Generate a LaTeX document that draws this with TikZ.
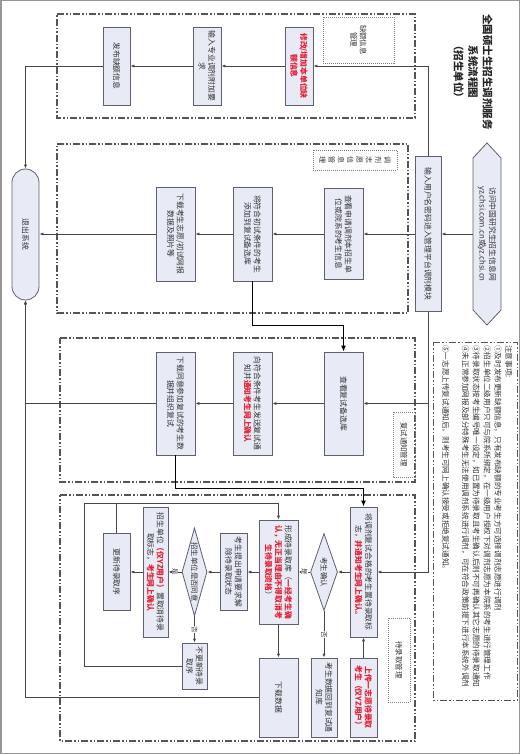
\documentclass[tikz,border=0pt]{standalone}
\usepackage{fontspec}
\usetikzlibrary{arrows.meta,shapes.geometric}
\newfontfamily\cjk{Noto Sans CJK SC}
\definecolor{boxfill}{RGB}{232, 235, 246}
\definecolor{boxline}{RGB}{95, 95, 110}
\definecolor{flowgray}{RGB}{70, 70, 70}
\definecolor{lanegray}{RGB}{85, 85, 85}
\definecolor{alertred}{RGB}{225, 35, 55}
\definecolor{framegray}{RGB}{150, 150, 150}
\newcommand{\redtxt}[1]{\textcolor{alertred}{\bfseries #1}}

\begin{document}
\begin{tikzpicture}[x=1pt, y=1pt,
    box/.style={draw=boxline, fill=boxfill, line width=0.8pt, inner sep=1pt, align=center, text=black!80, font=\cjk\fontsize{7.8}{9.8}\selectfont},
    decide/.style={diamond, draw=boxline, fill=boxfill, line width=0.8pt, inner sep=0pt, text=black!80, font=\cjk\fontsize{7.4}{9}\selectfont},
    lane/.style={draw=lanegray, line width=1.1pt, dash pattern=on 7pt off 2pt on 1.5pt off 2pt on 1.5pt off 2pt},
    tag/.style={draw=black!50, line width=0.6pt, dash pattern=on 1pt off 1pt, align=center, text=black!80, font=\cjk\fontsize{7.4}{9.5}\selectfont},
    flow/.style={draw=flowgray, line width=0.8pt, -{Latex[length=4pt, width=3.2pt]}},
    bigflow/.style={draw=black, line width=1.4pt, -{Latex[length=6pt, width=5pt]}},
    yesno/.style={fill=white, inner sep=0.5pt, text=black!80, font=\cjk\fontsize{6.5}{7}\selectfont}]
    % Moldura da página
    \useasboundingbox (0,-754) rectangle (520,0);
    \draw[framegray, line width=1.5pt] (0.75,-753.25) rectangle (519.25,-0.75);

    \begin{scope}[transform canvas={rotate=-90}]
    % Título
    \node[align=center, text=black!85, font=\cjk\bfseries\fontsize{10.5}{14.5}\selectfont] (title) at (72,473) {全国硕士生招生调剂服务\\系统流程图\\（招生单位）};

    % Entrada pelo site
    \filldraw[draw=boxline, fill=boxfill, line width=0.8pt] (143,487) -- (158,501) -- (310,501) -- (325,487) -- (310,473) -- (158,473) -- cycle;
    \node[align=center, minimum width=182, minimum height=28, inner sep=1pt, text=black!80, font=\cjk\fontsize{7.8}{9.8}\selectfont] (web) at (234,487) {访问中国研究生招生信息网\\yz.chsi.com.cn或yz.chsi.cn};
    \node[box, minimum width=155, minimum height=26] (login) at (234,428) {输入用户名密码进入管理平台调剂模块};

    % Observações
    \draw[lane, line width=0.9pt] (342,433) rectangle (700,517);
    \node[anchor=north west, align=left, inner sep=0pt, text=black!80, font=\cjk\fontsize{7.6}{10.8}\selectfont] (notes) at (345,512.5) {注意事项:\\①及时发布更新缺额信息，只有发布缺额的专业考生方可选择调剂志愿进行调剂\\②招生单位二级用户只可与院系所绑定，在一级用户授权下对调剂志愿为本院系的考生进行管理工作\\③待录取状态按考生编号唯一设定，如已置为待录取且考生确认后则不可再确认其它志愿的待录取通知\\④未正常参加网报及部分特殊考生无法使用调剂系统进行调剂，可在符合政策前提下进行本系统外调剂\\[9pt]⑤一志愿上传复试通知后，则考生可网上确认接受或拒绝复试通知。};

    % Faixas
    \draw[lane] (14,57) rectangle (118,415);
    \draw[lane] (144,57) rectangle (313,408);
    \draw[lane] (338,60) rectangle (482,415);
    \draw[lane] (495,60) rectangle (741,415);

    % Rótulos das faixas
    \node[tag, minimum width=46, minimum height=71] (quotatag) at (40,358.5) {缺额信息\\管理};
    \node[tag, minimum width=20, minimum height=84, font=\cjk\fontsize{7}{9.3}\selectfont] (willtag) at (160,355) {调\\剂\\志\\愿\\信\\息\\管\\理};
    \node[tag, minimum width=65, minimum height=22] (retesttag) at (444.5,404) {复试通知管理};
    \node[tag, minimum width=84, minimum height=22] (admittag) at (660,399) {待录取管理};

    % Faixa 1:缺额信息
    \node[box, minimum width=78, minimum height=28] (editquota) at (66,299) {\redtxt{修改/增加本单位缺}\\\redtxt{额信息}};
    \node[box, minimum width=78, minimum height=28] (addreq) at (66,207) {输入专业调剂附加要\\求};
    \node[box, minimum width=78, minimum height=27] (publish) at (66,116.5) {发布缺额信息};

    % Faixa 2: 调剂志愿
    \node[box, minimum width=91, minimum height=39] (browse) at (234,343.5) {查看申请调剂本招生单\\位或院系的考生信息};
    \node[box, minimum width=94, minimum height=39] (addpool) at (234,252.5) {将符合初试条件的考生\\添加到复试备选库};
    \node[box, minimum width=94, minimum height=39] (getdata) at (234,175.5) {下载考生志愿/初试网报\\数据及照片等};
    \node[box, rounded corners=13.5, minimum width=131, minimum height=27] (quit) at (234.5,25.5) {退出系统};

    % Faixa 3: 复试通知
    \node[box, minimum width=103, minimum height=39] (pool) at (403.5,343.5) {查看复试备选库};
    \node[box, minimum width=103, minimum height=39] (notify) at (403.5,252.5) {向符合条件考生发送复试通\\知并\redtxt{通知考生网上确认}};
    \node[box, minimum width=103, minimum height=39] (getretest) at (403.5,175.5) {下载同意参加复试的考生数\\据并组织复试};

    % Faixa 4: 待录取
    \node[box, minimum width=130, minimum height=27] (mark) at (572,363.5) {将调剂复试合格的考生置待录取标\\志，\redtxt{并通知考生网上确认。}};
    \node[box, minimum width=79, minimum height=27] (upload) at (697.5,363.5) {\redtxt{上传一志愿待录取}\\\redtxt{考生（仅YZ用户）}};
    \node[decide, minimum width=77, minimum height=27] (confirm) at (572,324) {\makebox[0pt]{考生确认}};
    \node[box, minimum width=79, minimum height=26] (back) at (697.5,324) {考生数据回到复试通\\知库};
    \node[box, minimum width=104, minimum height=39] (pending) at (572,278.5) {形成待录取库（\redtxt{一经考生确}\\\redtxt{认，无正当理由不得取消考}\\\redtxt{生待录取资格}）};
    \node[box, minimum width=79, minimum height=39] (download) at (697.5,278.5) {下载数据};
    \node[box, minimum width=77, minimum height=27] (apply) at (572,233.5) {考生提出申请要求解\\除待录取状态};
    \node[decide, minimum width=88, minimum height=25] (agree) at (572,194.5) {\makebox[0pt]{招生单位是否同意}};
    \node[box, minimum width=130, minimum height=25] (cancel) at (572,155.5) {招生单位\redtxt{（仅YZ用户）}置取消待录\\取标志，\redtxt{考生网上确认}};
    \node[box, minimum width=77, minimum height=27] (update) at (572,116.5) {更新待录取序};
    \node[box, minimum width=46, minimum height=25] (keep) at (666,194.5) {不更新待录\\取序};
    \coordinate (loop) at (503,84);

    % Ligações
    \draw[flow] (web.south) -- (login.north);
    \draw[flow] (login.west) -| (editquota.north);
    \draw[flow] (editquota.south) -- (addreq.north);
    \draw[flow] (addreq.south) -- (publish.north);
    \draw[flow] (publish.south) |- (quit.west);
    \draw[flow] (login.south) -- (browse.north);
    \draw[flow] (browse.south) -- (addpool.north);
    \draw[flow] (addpool.south) -- (getdata.north);
    \draw[flow] (getdata.south) -- (getdata.south |- quit.north);
    \draw[bigflow] (addpool.east) -- ++(44,0) |- (pool.west);
    \draw[flow] (login.east) -| (mark.north);
    \draw[flow] (pool.north |- login.east) -- (pool.north);
    \draw[flow] (pool.south) -- (notify.north);
    \draw[flow] (notify.south) -- (getretest.north);
    \draw[flow] (getretest.south) |- (quit.east);
    \draw[bigflow] (getretest.east) -- ++(33,0) |- (mark.west);
    \draw[flow] (upload.west) -- (mark.east);
    \draw[flow] (mark.south) -- (confirm.north);
    \draw[flow] (confirm.south) -- node[yesno] (yes1) {是} (pending.north);
    \draw[flow] (confirm.east) -- node[yesno] (no1) {否} (back.west);
    \draw[flow] (pending.east) -- (download.west);
    \draw[flow] (pending.south) -- (apply.north);
    \draw[flow] (apply.south) -- (agree.north);
    \draw[flow] (agree.south) -- node[yesno] (yes2) {是} (cancel.north);
    \draw[flow] (agree.east) -- node[yesno] (no2) {否} (keep.west);
    \draw[flow] (cancel.south) -- (update.north);
    \draw[flow] (keep.south) |- (loop) |- (pending.west);
    \draw[draw=flowgray, line width=0.8pt] (update.west) -- (update.west -| loop);
    \draw[flow] (download.south) |- (quit.east);
    \end{scope}
\end{tikzpicture}
\end{document}
